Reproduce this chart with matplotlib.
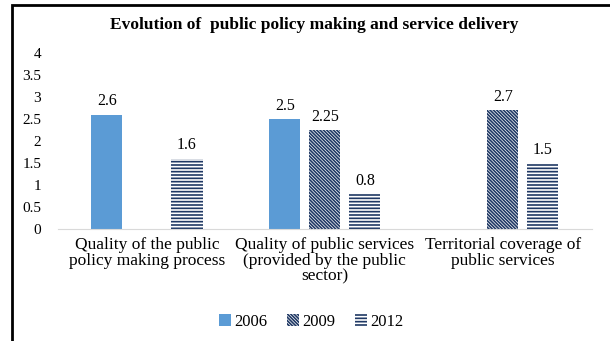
import numpy as np
import matplotlib.pyplot as plt
from matplotlib.patches import Patch, Rectangle

# 数据
categories = ['Quality of the public\npolicy making process',
              'Quality of public services\n(provided by the public\nsector)',
              'Territorial coverage of\npublic services']
years = ['2006', '2009', '2012']
v2006 = [2.6, 2.5, np.nan]
v2009 = [np.nan, 2.25, 2.7]
v2012 = [1.6, 0.8, 1.5]
yticks = [0, 0.5, 1, 1.5, 2, 2.5, 3, 3.5, 4]

plt.rcParams['font.family'] = ['Liberation Serif', 'DejaVu Serif']
plt.rcParams['hatch.linewidth'] = 1.2

blue = '#5b9bd5'
navy = '#1f3864'
diag = '\\' * 10
horiz = '-----'

fig = plt.figure(figsize=(6.1, 3.41), dpi=100)
ax = fig.add_axes([0.095, 0.328, 0.875, 0.517])

x = np.arange(len(categories))
w, off = 0.175, 0.225
series = [
    (v2006, dict(color=blue, linewidth=0)),
    (v2009, dict(facecolor='white', edgecolor=navy, hatch=diag, linewidth=0)),
    (v2012, dict(facecolor='white', edgecolor=navy, hatch=horiz, linewidth=0)),
]
for i, (vals, style) in enumerate(series):
    pos = x + (i - 1) * off
    ax.bar(pos, vals, w, **style)
    for px, v in zip(pos, vals):
        if not np.isnan(v):
            ax.text(px, v + 0.12, f'{v:g}', ha='center', va='bottom', fontsize=11.5)

ax.set_xlim(-0.5, 2.5)
ax.set_ylim(0, 4)
ax.set_yticks(yticks)
ax.set_yticklabels([f'{t:g}' for t in yticks])
ax.set_xticks(x)
ax.set_xticklabels(categories, linespacing=0.95)
ax.tick_params(length=0)
ax.tick_params(axis='y', pad=12, labelsize=11)
ax.tick_params(axis='x', pad=6, labelsize=12.5)
for s in ['top', 'right', 'left']:
    ax.spines[s].set_visible(False)
ax.spines['bottom'].set_color('#d9d9d9')

fig.text(0.515, 0.927, 'Evolution of  public policy making and service delivery',
         ha='center', va='center', fontsize=12.5, fontweight='bold')

handles = [Patch(facecolor=blue, linewidth=0),
           Patch(facecolor='white', edgecolor=navy, hatch=diag, linewidth=0),
           Patch(facecolor='white', edgecolor=navy, hatch=horiz, linewidth=0)]
fig.legend(handles, years, loc='center', bbox_to_anchor=(0.51, 0.056), ncol=3,
           frameon=False, fontsize=12, handlelength=0.7, handleheight=0.7,
           handletextpad=0.2, columnspacing=1.2)

# 边框
fig.add_artist(Rectangle((0.0197, -0.1), 1.1, 1.085, transform=fig.transFigure,
                         fill=False, edgecolor='black', linewidth=2))

fig.savefig('out.png', dpi=100)
